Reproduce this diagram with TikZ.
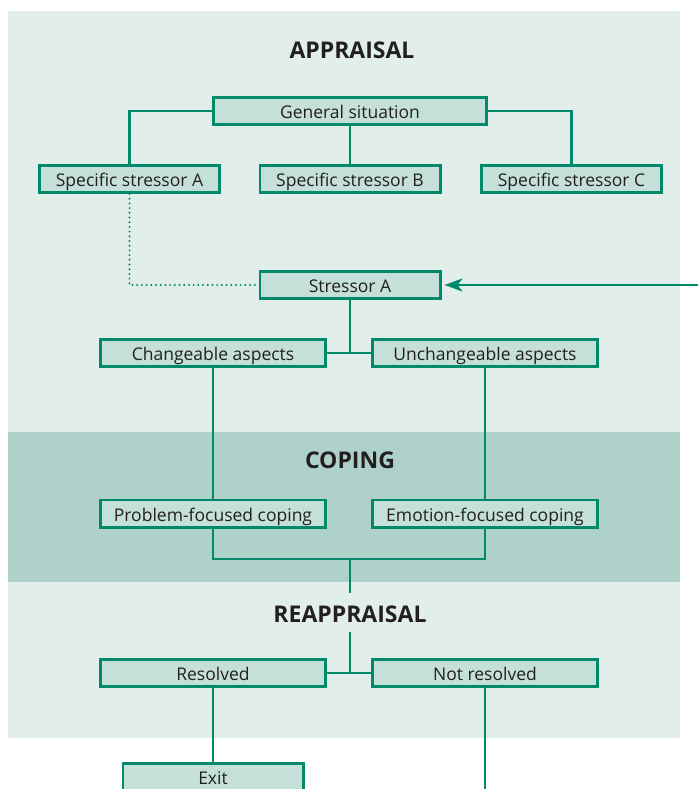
\documentclass[tikz,border=0pt]{standalone}
\usepackage{fontspec}
\setmainfont{Open Sans}
\usetikzlibrary{arrows.meta}
\definecolor{bgl}{HTML}{E2EEEA}
\definecolor{bgd}{HTML}{AED2C9}
\definecolor{boxf}{HTML}{C5E0D9}
\definecolor{teal}{HTML}{00896B}
\definecolor{ink}{HTML}{231F20}
\begin{document}
\begin{tikzpicture}[x=1pt,y=-1pt,
  box/.style={draw=teal,fill=boxf,line width=2.6pt,inner sep=0pt,minimum height=27.4pt,
    text height=15.5pt,text depth=0pt,
    text=ink,font=\fontsize{17.5}{20}\selectfont},
  wbox/.style={box,minimum width=225.4pt},
  sbox/.style={box,minimum width=180.4pt},
  conn/.style={draw=teal,line width=2.1pt},
  ttl/.style={text=ink,font=\fontsize{23}{27}\selectfont\bfseries,inner sep=0pt}]
\useasboundingbox (0,0) rectangle (698,789);
\fill[white] (0,0) rectangle (698,789);
\fill[bgl] (8,11) rectangle (680,432);
\fill[bgd] (8,432) rectangle (680,582);
\fill[bgl] (8,582) rectangle (680,738);

\node[ttl] (t1) at (352,50.5) {APPRAISAL};
\node[ttl] (t2) at (350,460) {COPING};
\node[ttl] (t3) at (350,614.5) {REAPPRAISAL};

\node[box,minimum width=273.4pt] (gen) at (350,111) {General situation};
\node[sbox] (sa) at (129.5,179) {Specific stressor A};
\node[sbox] (sb) at (350,179) {Specific stressor B};
\node[sbox] (sc) at (571.5,179) {Specific stressor C};
\node[sbox] (st) at (350,285) {Stressor A};
\node[wbox] (ch) at (213,353) {Changeable aspects};
\node[wbox] (un) at (485,353) {Unchangeable aspects};
\node[wbox] (pf) at (213,513.5) {Problem-focused coping};
\node[wbox] (ef) at (485,513.5) {Emotion-focused coping};
\node[wbox] (rs) at (213,673) {Resolved};
\node[wbox] (nr) at (485,673) {Not resolved};
\node[sbox] (ex) at (213,777) {Exit};

\coordinate (jc) at (350,559);
\coordinate (ja) at (350,593);
\coordinate (jb) at (350,632);
\coordinate (ar) at (698,285);
\coordinate (nd) at (485,789);

\draw[conn] (gen.west) -| (sa.north);
\draw[conn] (gen.east) -| (sc.north);
\draw[conn] (gen.south) -- (sb.north);
\draw[teal,line width=2.2pt,line cap=round,dash pattern=on 0pt off 4.7pt] (sa.south) |- (st.west);
\draw[conn,-{Stealth[length=18pt,width=13pt,inset=5pt]},shorten >=3pt] (ar) -- (st.east);
\draw[conn] (st.south) -- (st.south |- ch.east);
\draw[conn] (ch.east) -- (un.west);
\draw[conn] (ch.south) -- (pf.north);
\draw[conn] (un.south) -- (ef.north);
\draw[conn] (pf.south) |- (jc) -| (ef.south);
\draw[conn] (jc) -- (ja);
\draw[conn] (jb) -- (jb |- rs.east);
\draw[conn] (rs.east) -- (nr.west);
\draw[conn] (rs.south) -- (ex.north);
\draw[conn] (nr.south) -- (nd);
\end{tikzpicture}
\end{document}
